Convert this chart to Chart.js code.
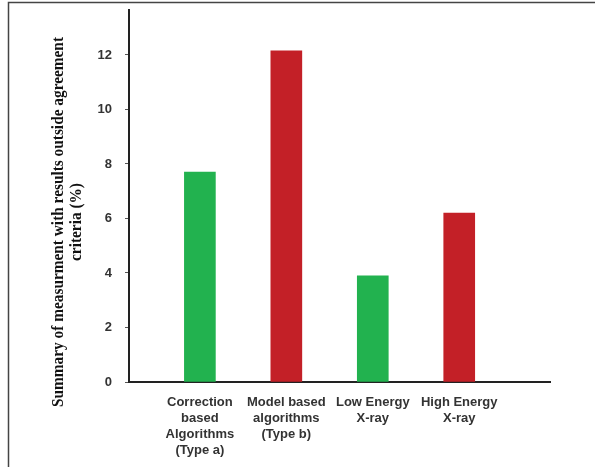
<!DOCTYPE html>
<html><head><meta charset="utf-8">
<script src="https://cdn.jsdelivr.net/npm/chart.js@4.4.0/dist/chart.umd.min.js"></script>
<style>html,body{margin:0;padding:0;background:#fff;}#wrap{position:relative;width:595px;height:467px;}</style>
</head><body><div id="wrap"><canvas id="c" width="595" height="467"></canvas></div>
<script>
const categories = [
  ['Correction','based','Algorithms','(Type a)'],
  ['Model based','algorithms','(Type b)'],
  ['Low Energy','X-ray'],
  ['High Energy','X-ray']
];
const values = [7.7, 12.15, 3.9, 6.2];
const barColors = ['#22b24f','#c32027','#22b24f','#c32027'];
const yTicks = [0, 2, 4, 6, 8, 10, 12];
const yTitleLines = ['Summary of measurment with results outside agreement', 'criteria (%)'];

const framePlugin = {
  id: 'frame',
  beforeDraw(chart) {
    const ctx = chart.ctx;
    ctx.save();
    ctx.fillStyle = '#fff';
    ctx.fillRect(0, 0, chart.width, chart.height);
    ctx.strokeStyle = '#444';
    ctx.lineWidth = 1.5;
    ctx.beginPath();
    ctx.moveTo(8.5, chart.height);
    ctx.lineTo(8.5, 2.5);
    ctx.lineTo(chart.width, 2.5);
    ctx.stroke();
    ctx.restore();
  }
};

const yTitlePlugin = {
  id: 'yTitle',
  afterDraw(chart) {
    const ctx = chart.ctx;
    ctx.save();
    ctx.font = 'bold 16px "Liberation Serif", "Times New Roman", serif';
    ctx.fillStyle = '#111';
    ctx.textAlign = 'center';
    ctx.textBaseline = 'alphabetic';
    const cy = 222;
    const xs = [63, 81];
    const sx = 370 / ctx.measureText(yTitleLines[0]).width;
    yTitleLines.forEach((t, i) => {
      ctx.save();
      ctx.translate(xs[i], cy);
      ctx.rotate(-Math.PI / 2);
      ctx.scale(sx, 1);
      ctx.fillText(t, 0, 0);
      ctx.restore();
    });
    ctx.restore();
  }
};

const tickFont = { family: '"Liberation Sans", Arial, sans-serif', size: 13, weight: 'bold', lineHeight: 1.23 };

new Chart(document.getElementById('c'), {
  type: 'bar',
  data: {
    datasets: [{
      data: values.map((v, i) => ({ x: i + 1, y: v })),
      backgroundColor: barColors,
      borderWidth: 0,
      barThickness: 31
    }]
  },
  options: {
    responsive: false,
    animation: false,
    devicePixelRatio: 1,
    layout: { padding: { left: 0, right: 45, top: 10, bottom: 0 } },
    plugins: { legend: { display: false }, tooltip: { enabled: false }, title: { display: false } },
    scales: {
      x: {
        type: 'linear',
        offset: false,
        bounds: 'data',
        min: 0.18,
        max: 5.05,
        afterBuildTicks: s => { s.ticks = categories.map((c, i) => ({ value: i + 1 })); },
        afterFit: s => { s.height = 85; s.paddingLeft = 0; s.paddingRight = 0; },
        ticks: {
          autoSkip: false,
          maxRotation: 0,
          minRotation: 0,
          padding: 4,
          color: '#333',
          font: tickFont,
          callback: v => categories[v - 1] || ''
        },
        grid: { display: false, offset: false },
        border: { display: true, color: '#222', width: 2 }
      },
      y: {
        min: 0,
        max: 13.65,
        afterBuildTicks: s => { s.ticks = yTicks.map(v => ({ value: v })); },
        afterFit: s => { s.width = 129; s.paddingTop = 0; s.paddingBottom = 0; },
        ticks: { padding: 13, color: '#333', font: tickFont },
        grid: { drawOnChartArea: false, drawTicks: true, tickLength: 4, color: '#555', lineWidth: 1 },
        border: { display: true, color: '#222', width: 2 }
      }
    }
  },
  plugins: [framePlugin, yTitlePlugin]
});
</script>
</body></html>
